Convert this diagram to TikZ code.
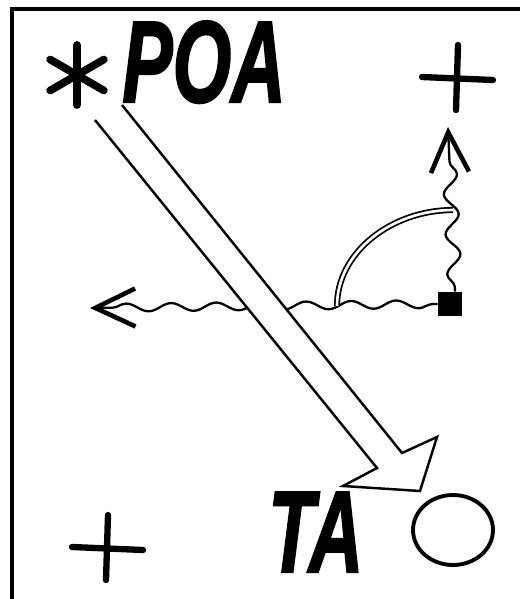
\documentclass[tikz,border=0pt]{standalone}
\usepackage{fontspec}
\usepackage{graphicx}
\newfontfamily\handfont[FakeBold=2]{Liberation Sans Bold Italic}
\usetikzlibrary{arrows.meta, decorations.pathmorphing, shapes.geometric, positioning, calc}

\begin{document}
\begin{tikzpicture}[
    x=0.02cm, y=-0.02cm,
    frameline/.style={line width=2.4pt},
    crossline/.style={line width=3.6pt, line cap=round},
    starline/.style={line width=4.4pt, line cap=round},
    bigword/.style={font=\fontsize{66}{66}\selectfont\handfont,
                    inner sep=0pt, anchor=base west},
    wave/.style 2 args={line width=1.3pt, decorate,
                 decoration={snake, amplitude=#1, segment length=#2,
                             pre length=0.1cm, post length=0.3cm}},
    barb/.style={-{Straight Barb[length=0.8cm, width=0.76cm, line width=2.6pt]}},
    hollow/.style={line width=1.4pt, fill=white, line join=miter},
]
\useasboundingbox (0,0) rectangle (520,599);

% ── Frame ──
\draw[frameline] (12,599) -- (12,9) -- (520,9);

% ── Labels ──
\coordinate (starC) at (77,75);
\draw[starline] ($(starC)+(90:30)$) -- ($(starC)+(270:30)$);
\draw[starline] ($(starC)+(30:31)$) -- ($(starC)+(210:31)$);
\draw[starline] ($(starC)+(150:31)$) -- ($(starC)+(330:31)$);
\node[bigword] (poa) at (122,102) {\scalebox{0.65}[1]{POA}};
\node[bigword] (ta) at (268,572) {\scalebox{0.65}[1]{TA}};
\node[draw, ellipse, line width=2.2pt, minimum width=1.6cm, minimum height=1.4cm] (ring) at (453,530) {};

% ── Crosses ──
\coordinate (crossNE) at (457,78);
\coordinate (crossSW) at (107,548);
\foreach \c in {crossNE, crossSW} {
  \draw[crossline] ($(\c)+(-35,-1)$) -- ($(\c)+(36,2)$);
  \draw[crossline] ($(\c)+(1,-33)$) -- ($(\c)+(-1,32)$);
}

% ── Source and wavy rays ──
\node[fill, minimum size=0.48cm, inner sep=0pt] (sq) at (450,304) {};
\coordinate (tipW) at (90,308);
\coordinate (tipN) at (448,127);
\draw[wave={0.08cm}{0.9cm}, barb] (sq.west) -- (tipW);
\draw[wave={0.14cm}{0.8cm}, barb] ([xshift=0.1cm]sq.north) -- (tipN);

% ── Angle ──
\coordinate (arcA) at (337,306);
\coordinate (arcB) at (453,210);
\draw[line width=1pt, double, double distance=1.5pt]
  (arcA) .. controls (337,252) and (392,210) .. (arcB);

% ── Big arrow ──
\draw[hollow] (95,120) -- (377,468) -- (343,486) -- (420,491)
  -- (437,437) -- (402,453) -- (122,105);

\end{tikzpicture}
\end{document}
